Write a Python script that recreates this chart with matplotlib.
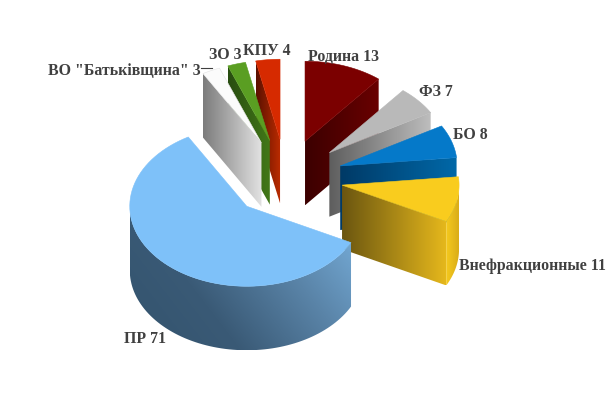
import numpy as np
import matplotlib
matplotlib.use("Agg")
import matplotlib.pyplot as plt
from matplotlib.patches import Polygon
from matplotlib.colors import LinearSegmentedColormap

labels = ["Родина", "ФЗ", "БО", "Внефракционные", "ПР", 'ВО "Батьківщина"', "ЗО", "КПУ"]
values = [13, 7, 8, 11, 71, 3, 3, 4]
top_colors = ["#7b0000", "#b9b9b9", "#0579c9", "#f9cc1e", "#7ec1f9", "#fbfbfb", "#5a9e22", "#d62a00"]
wall_colors = [("#3c0000", "#690000"), ("#5e5e5e", "#bdbdbd"), ("#003a66", "#0068a8"),
               ("#6b5610", "#e6b81c"), ("#33536d", "#3a5a76", "#5a84a8", "#7ab2df"), ("#7c7c7c", "#e2e2e2"),
               ("#284c10", "#427818"), ("#5a1000", "#bd2c00")]
label_xy = [(308, 57), (419, 92), (453, 135), (459, 266), (124, 339), (48, 71), (209, 55), (243, 51)]
draw_order = [0, 1, 2, 3, 7, 6, 5, 4]

# pie geometry in pixels
cx, cy = 286, 179
rx, ry = 117, 80
depth = 64
explode = 57

fig = plt.figure(figsize=(6.09, 4.10), dpi=100)
ax = fig.add_axes([0, 0, 1, 1])
ax.set_xlim(0, 609)
ax.set_ylim(410, 0)
ax.axis("off")


def pt(ox, oy, a):
    r = np.radians(a)
    return ox + rx * np.sin(r), oy - ry * np.cos(r)


def grad_poly(pts, cols, diag=0.0, z=1):
    pts = np.array(pts)
    x0, x1 = pts[:, 0].min(), pts[:, 0].max()
    y0, y1 = pts[:, 1].min(), pts[:, 1].max()
    xx, yy = np.meshgrid(np.linspace(0, 1, 200), np.linspace(0, 1, 200))
    g = (xx + diag * (1 - yy)) / (1 + diag)
    cmap = LinearSegmentedColormap.from_list("w", list(cols))
    im = ax.imshow(g, extent=(x0, x1, y1, y0), cmap=cmap, aspect="auto", zorder=z, vmin=0, vmax=1)
    clip = Polygon(pts, closed=True, transform=ax.transData, fc="none", ec="none")
    ax.add_patch(clip)
    im.set_clip_path(clip)


edges = np.concatenate([[0], np.cumsum(values)]) * 360.0 / sum(values)
z = 1
for i in draw_order:
    a0, a1 = edges[i], edges[i + 1]
    mid = np.radians((a0 + a1) / 2)
    ox = cx + explode * np.sin(mid)
    oy = cy - explode * ry / rx * np.cos(mid)

    # cut faces
    for a, show in ((a0, np.sin(np.radians(a0)) < -1e-6), (a1, np.sin(np.radians(a1)) > 1e-6)):
        if show:
            px, py = pt(ox, oy, a)
            grad_poly([(ox, oy), (px, py), (px, py + depth), (ox, oy + depth)], wall_colors[i], z=z)
            z += 1

    # outer wall, front half only
    lo, hi = max(a0, 90), min(a1, 270)
    if hi > lo:
        arc = np.array([pt(ox, oy, a) for a in np.linspace(lo, hi, 80)])
        low = arc + [0, depth]
        if labels[i] == "ПР":
            grad_poly(np.vstack([arc, low[::-1]]), wall_colors[i], diag=0.5, z=z)
        else:
            grad_poly(np.vstack([arc, low[::-1]]), ("#f6ca1e", "#d9ac18"), z=z)
        z += 1

    # top face
    arc = [pt(ox, oy, a) for a in np.linspace(a0, a1, 80)]
    ax.add_patch(Polygon([(ox, oy)] + arc, closed=True, fc=top_colors[i],
                         ec="#e4e4e4" if top_colors[i] == "#fbfbfb" else top_colors[i], lw=0.4, zorder=z))
    z += 1

for name, v, (x, y) in zip(labels, values, label_xy):
    ax.text(x, y, "%s %d" % (name, v), family="Liberation Serif", weight="bold", fontsize=11.4,
            color="#404040", ha="left", va="center", zorder=z)
ax.plot([201, 212], [69, 69], color="#404040", lw=0.8, zorder=z)

ax.set_xlim(0, 609)
ax.set_ylim(410, 0)
fig.savefig("out.png", dpi=100)
